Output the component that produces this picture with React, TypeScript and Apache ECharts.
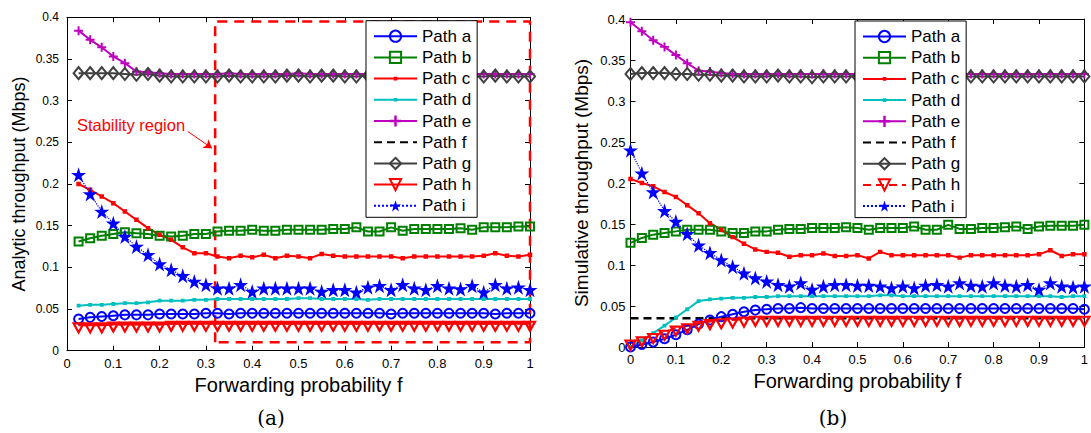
import React, { useEffect, useRef } from 'react';
import * as echarts from 'echarts';

// ---------- data ----------
const xLeft = [0.025, 0.05, 0.075, 0.1, 0.125, 0.15, 0.175, 0.2, 0.225, 0.25, 0.275, 0.3, 0.325, 0.35, 0.375, 0.4, 0.425, 0.45, 0.475, 0.5, 0.525, 0.55, 0.575, 0.6, 0.625, 0.65, 0.675, 0.7, 0.725, 0.75, 0.775, 0.8, 0.825, 0.85, 0.875, 0.9, 0.925, 0.95, 0.975, 1];
const xRight = [0, 0.025, 0.05, 0.075, 0.1, 0.125, 0.15, 0.175, 0.2, 0.225, 0.25, 0.275, 0.3, 0.325, 0.35, 0.375, 0.4, 0.425, 0.45, 0.475, 0.5, 0.525, 0.55, 0.575, 0.6, 0.625, 0.65, 0.675, 0.7, 0.725, 0.75, 0.775, 0.8, 0.825, 0.85, 0.875, 0.9, 0.925, 0.95, 0.975, 1];

const xTickLabels = ['0', '0.1', '0.2', '0.3', '0.4', '0.5', '0.6', '0.7', '0.8', '0.9', '1'];
const yTickLabels = ['0', '0.05', '0.1', '0.15', '0.2', '0.25', '0.3', '0.35', '0.4'];
const pathNames = ['Path a', 'Path b', 'Path c', 'Path d', 'Path e', 'Path f', 'Path g', 'Path h', 'Path i'];

// (a) analytic
const leftA = [0.038, 0.040, 0.041, 0.042, 0.043, 0.043, 0.043, 0.044, 0.044, 0.044, 0.044, 0.045, 0.045, 0.044, 0.045, 0.045, 0.045, 0.045, 0.045, 0.045, 0.045, 0.045, 0.045, 0.045, 0.045, 0.045, 0.045, 0.044, 0.045, 0.045, 0.045, 0.045, 0.045, 0.045, 0.045, 0.045, 0.044, 0.045, 0.045, 0.045];
const leftB = [0.131, 0.135, 0.138, 0.140, 0.142, 0.141, 0.140, 0.138, 0.137, 0.138, 0.140, 0.140, 0.143, 0.144, 0.144, 0.145, 0.144, 0.144, 0.145, 0.145, 0.145, 0.145, 0.146, 0.146, 0.148, 0.143, 0.143, 0.148, 0.144, 0.146, 0.146, 0.146, 0.146, 0.147, 0.145, 0.148, 0.148, 0.148, 0.149, 0.149];
const leftC = [0.200, 0.193, 0.185, 0.177, 0.167, 0.157, 0.147, 0.139, 0.133, 0.124, 0.117, 0.117, 0.113, 0.111, 0.114, 0.112, 0.115, 0.111, 0.114, 0.113, 0.111, 0.116, 0.114, 0.113, 0.113, 0.113, 0.113, 0.113, 0.111, 0.113, 0.113, 0.113, 0.113, 0.113, 0.113, 0.114, 0.117, 0.114, 0.113, 0.115];
const leftD = [0.054, 0.055, 0.055, 0.056, 0.057, 0.057, 0.058, 0.060, 0.060, 0.060, 0.061, 0.061, 0.062, 0.062, 0.062, 0.062, 0.062, 0.062, 0.062, 0.063, 0.063, 0.062, 0.062, 0.062, 0.062, 0.061, 0.062, 0.062, 0.062, 0.062, 0.062, 0.062, 0.062, 0.062, 0.062, 0.062, 0.062, 0.062, 0.062, 0.062];
const leftE = [0.384, 0.373, 0.364, 0.353, 0.345, 0.335, 0.334, 0.333, 0.332, 0.332, 0.332, 0.332, 0.332, 0.333, 0.332, 0.332, 0.332, 0.332, 0.332, 0.333, 0.332, 0.332, 0.332, 0.332, 0.332, 0.332, 0.332, 0.332, 0.332, 0.332, 0.333, 0.332, 0.332, 0.332, 0.332, 0.332, 0.332, 0.332, 0.332, 0.332];
const leftF = [0.031, 0.031, 0.031, 0.032, 0.032, 0.032, 0.032, 0.032, 0.033, 0.033, 0.033, 0.033, 0.033, 0.033, 0.033, 0.033, 0.033, 0.033, 0.033, 0.033, 0.033, 0.033, 0.033, 0.033, 0.033, 0.033, 0.033, 0.033, 0.033, 0.033, 0.033, 0.033, 0.033, 0.033, 0.033, 0.033, 0.033, 0.033, 0.033, 0.033];
const leftG = [0.333, 0.333, 0.333, 0.333, 0.332, 0.331, 0.332, 0.330, 0.329, 0.329, 0.329, 0.329, 0.329, 0.330, 0.329, 0.329, 0.329, 0.329, 0.330, 0.330, 0.329, 0.330, 0.330, 0.329, 0.329, 0.330, 0.329, 0.330, 0.330, 0.329, 0.330, 0.329, 0.329, 0.330, 0.329, 0.329, 0.330, 0.329, 0.329, 0.329];
const leftH = [0.031, 0.031, 0.031, 0.032, 0.032, 0.032, 0.032, 0.032, 0.033, 0.033, 0.033, 0.033, 0.033, 0.033, 0.033, 0.033, 0.033, 0.033, 0.033, 0.033, 0.033, 0.033, 0.033, 0.033, 0.033, 0.033, 0.033, 0.033, 0.033, 0.033, 0.033, 0.033, 0.033, 0.033, 0.033, 0.033, 0.033, 0.033, 0.033, 0.033];
const leftI = [0.211, 0.188, 0.167, 0.153, 0.137, 0.125, 0.115, 0.104, 0.097, 0.090, 0.083, 0.079, 0.075, 0.075, 0.079, 0.071, 0.075, 0.075, 0.075, 0.075, 0.075, 0.071, 0.073, 0.073, 0.070, 0.076, 0.078, 0.073, 0.079, 0.075, 0.073, 0.078, 0.075, 0.074, 0.078, 0.070, 0.079, 0.075, 0.076, 0.073];

// (b) simulative
const rightA = [0.000, 0.003, 0.006, 0.010, 0.015, 0.021, 0.028, 0.033, 0.037, 0.040, 0.043, 0.045, 0.046, 0.047, 0.047, 0.048, 0.047, 0.047, 0.047, 0.047, 0.047, 0.047, 0.047, 0.047, 0.047, 0.047, 0.047, 0.047, 0.047, 0.047, 0.047, 0.047, 0.047, 0.047, 0.047, 0.047, 0.047, 0.047, 0.047, 0.047, 0.046];
const rightB = [0.127, 0.133, 0.137, 0.139, 0.141, 0.143, 0.143, 0.143, 0.141, 0.139, 0.139, 0.141, 0.141, 0.143, 0.144, 0.144, 0.145, 0.145, 0.145, 0.146, 0.145, 0.143, 0.145, 0.145, 0.145, 0.147, 0.143, 0.143, 0.149, 0.144, 0.144, 0.145, 0.145, 0.146, 0.147, 0.144, 0.147, 0.148, 0.148, 0.148, 0.149];
const rightC = [0.205, 0.200, 0.196, 0.189, 0.183, 0.173, 0.163, 0.151, 0.143, 0.134, 0.126, 0.119, 0.116, 0.115, 0.110, 0.112, 0.112, 0.114, 0.111, 0.111, 0.112, 0.108, 0.116, 0.112, 0.112, 0.112, 0.112, 0.112, 0.112, 0.109, 0.112, 0.112, 0.112, 0.112, 0.112, 0.112, 0.113, 0.118, 0.111, 0.113, 0.113];
const rightD = [0.000, 0.008, 0.017, 0.026, 0.036, 0.046, 0.056, 0.058, 0.059, 0.060, 0.060, 0.061, 0.061, 0.062, 0.062, 0.062, 0.062, 0.062, 0.062, 0.062, 0.062, 0.062, 0.063, 0.063, 0.062, 0.062, 0.062, 0.062, 0.062, 0.062, 0.062, 0.062, 0.062, 0.062, 0.062, 0.062, 0.062, 0.062, 0.061, 0.062, 0.062];
const rightE = [0.396, 0.385, 0.374, 0.366, 0.356, 0.346, 0.337, 0.336, 0.334, 0.333, 0.333, 0.333, 0.333, 0.333, 0.333, 0.333, 0.333, 0.333, 0.333, 0.333, 0.333, 0.333, 0.333, 0.333, 0.333, 0.334, 0.333, 0.333, 0.333, 0.333, 0.333, 0.333, 0.333, 0.333, 0.333, 0.333, 0.333, 0.333, 0.333, 0.333, 0.333];
const rightF = [0.035, 0.035, 0.035, 0.035, 0.035, 0.035, 0.035, 0.035, 0.035, 0.035, 0.035, 0.035, 0.035, 0.035, 0.035, 0.035, 0.035, 0.035, 0.035, 0.035, 0.035, 0.035, 0.035, 0.035, 0.035, 0.035, 0.035, 0.035, 0.035, 0.035, 0.035, 0.035, 0.035, 0.035, 0.035, 0.035, 0.035, 0.035, 0.035, 0.035, 0.035];
const rightG = [0.333, 0.334, 0.334, 0.334, 0.333, 0.333, 0.332, 0.332, 0.331, 0.331, 0.330, 0.330, 0.330, 0.331, 0.330, 0.330, 0.329, 0.330, 0.330, 0.330, 0.330, 0.330, 0.329, 0.330, 0.330, 0.330, 0.330, 0.330, 0.330, 0.329, 0.330, 0.330, 0.330, 0.330, 0.330, 0.330, 0.330, 0.330, 0.330, 0.330, 0.330];
const rightH = [0.006, 0.010, 0.014, 0.018, 0.023, 0.026, 0.029, 0.031, 0.032, 0.033, 0.034, 0.035, 0.035, 0.035, 0.035, 0.035, 0.035, 0.035, 0.035, 0.035, 0.035, 0.035, 0.035, 0.035, 0.035, 0.035, 0.035, 0.035, 0.035, 0.035, 0.035, 0.035, 0.035, 0.035, 0.035, 0.035, 0.035, 0.035, 0.035, 0.035, 0.035];
const rightI = [0.240, 0.212, 0.189, 0.166, 0.153, 0.138, 0.124, 0.115, 0.106, 0.098, 0.090, 0.084, 0.080, 0.076, 0.074, 0.078, 0.070, 0.074, 0.076, 0.076, 0.075, 0.075, 0.074, 0.072, 0.074, 0.072, 0.075, 0.076, 0.074, 0.078, 0.075, 0.074, 0.078, 0.075, 0.074, 0.076, 0.070, 0.078, 0.074, 0.073, 0.074];

// stability region annotation (data coordinates of chart (a))
const regionX = [0.32, 0.32, 1, 1, 0.32];
const regionY = [0.01, 0.395, 0.395, 0.01, 0.01];
const arrowFrom = [0.261, 0.263];
const arrowTo = [0.313, 0.243];

// ---------- styles ----------
const FONT = '"Liberation Sans", Arial, Helvetica, sans-serif';
const STAR = 'path://M50,0 L61.2,34.5 L97.6,34.5 L68.2,55.9 L79.4,90.5 L50,69.1 L20.6,90.5 L31.8,55.9 L2.4,34.5 L38.8,34.5 Z';
const PLUS = 'path://M3.9,0 L6.1,0 L6.1,3.9 L10,3.9 L10,6.1 L6.1,6.1 L6.1,10 L3.9,10 L3.9,6.1 L0,6.1 L0,3.9 L3.9,3.9 Z';
const DOT = 'path://M0,0 L0.01,0 L0,0.01 Z M3.4,3.4 L6.6,3.4 L6.6,6.6 L3.4,6.6 Z M10,10 L9.99,10 L10,9.99 Z';
const CLEAR = 'rgba(0,0,0,0)';

type St = {
  color: string; width: number; type?: any; symbol: string; size: any;
  fill: string; border?: number; rotate?: number; offset?: number[]; hidden?: boolean;
};

const styleLeft: St[] = [
  { color: '#0000FF', width: 2, symbol: 'circle', size: 9, fill: CLEAR, border: 2 },
  { color: '#008000', width: 2, symbol: 'rect', size: 8, fill: CLEAR, border: 2 },
  { color: '#FF0000', width: 2, symbol: DOT, size: 14, fill: '#FF0000' },
  { color: '#00BFBF', width: 2, symbol: DOT, size: 12, fill: '#00BFBF' },
  { color: '#BF00BF', width: 2, symbol: PLUS, size: 9, fill: '#BF00BF' },
  { color: '#000000', width: 2.5, type: [8, 5], symbol: 'circle', size: 0, fill: '#000', hidden: true },
  { color: '#404040', width: 2, symbol: 'diamond', size: [10, 12], fill: CLEAR, border: 2 },
  { color: '#FF0000', width: 3, symbol: 'triangle', size: [10, 9], fill: CLEAR, border: 2.2, rotate: 180, offset: [0, 3] },
  { color: '#0000FF', width: 1.2, type: 'dotted', symbol: STAR, size: 15, fill: '#0000FF' },
];
const styleRight: St[] = styleLeft.map((s, i) =>
  i === 7 ? { ...s, width: 2, type: [8, 5] } : s
);

const leftData = [leftA, leftB, leftC, leftD, leftE, leftF, leftG, leftH, leftI];
const rightData = [rightA, rightB, rightC, rightD, rightE, rightF, rightG, rightH, rightI];
const rightNames = pathNames.map((n) => n + ' ');

function makeSeries(name: string, xs: number[], ys: number[], s: St, axis: number) {
  return {
    type: 'line',
    name,
    xAxisIndex: axis,
    yAxisIndex: axis,
    data: xs.map((x, i) => [x, ys[i]]),
    symbol: s.symbol,
    symbolSize: s.size,
    symbolRotate: s.rotate || 0,
    symbolOffset: s.offset || [0, 0],
    showSymbol: !s.hidden,
    showAllSymbol: true,
    symbolKeepAspect: false,
    silent: true,
    lineStyle: { color: s.color, width: s.width, type: s.type || 'solid' },
    itemStyle: {
      color: s.fill,
      borderColor: s.color,
      borderWidth: s.border || 0,
      opacity: s.hidden ? 0 : 1,
    },
    emphasis: { disabled: true },
  };
}

function xAxis(grid: number, pos: 'bottom' | 'top', nameGap: number) {
  const main = pos === 'bottom';
  return {
    type: 'value',
    gridIndex: grid,
    position: pos,
    min: 0,
    max: 1,
    interval: 0.1,
    name: main ? 'Forwarding probability f' : '',
    nameLocation: 'middle',
    nameGap,
    nameTextStyle: { fontSize: 20, color: '#000', fontFamily: FONT },
    axisLine: { show: true, onZero: false, lineStyle: { color: '#000', width: 1 } },
    axisTick: { show: true, inside: true, length: 5, lineStyle: { color: '#000' } },
    axisLabel: {
      show: main,
      fontSize: 13,
      color: '#000',
      margin: 6,
      fontFamily: FONT,
      formatter: (v: number) => xTickLabels[Math.round(v * 10)],
    },
    splitLine: { show: false },
  };
}

function yAxis(grid: number, pos: 'left' | 'right', title: string, nameGap: number, fontSize: number, margin: number, titleSize: number) {
  const main = pos === 'left';
  return {
    type: 'value',
    gridIndex: grid,
    position: pos,
    min: 0,
    max: 0.4,
    interval: 0.05,
    name: main ? title : '',
    nameLocation: 'middle',
    nameGap,
    nameRotate: 90,
    nameTextStyle: { fontSize: titleSize, color: '#000', fontFamily: FONT },
    axisLine: { show: true, onZero: false, lineStyle: { color: '#000', width: 1 } },
    axisTick: { show: true, inside: true, length: 5, lineStyle: { color: '#000' } },
    axisLabel: {
      show: main,
      fontSize,
      color: '#000',
      margin,
      fontFamily: FONT,
      formatter: (v: number) => yTickLabels[Math.round(v / 0.05)],
    },
    splitLine: { show: false },
  };
}

function legend(names: string[], left: number, top: number) {
  return {
    data: names.map((n, i) => (i === 5 ? { name: n, itemStyle: { opacity: 0 } } : { name: n })),
    orient: 'vertical',
    left,
    top,
    itemWidth: 43,
    itemHeight: 14,
    itemGap: 4.2,
    padding: [7, 6, 3, 7],
    borderColor: '#000',
    borderWidth: 1,
    borderRadius: 0,
    backgroundColor: '#fff',
    selectedMode: false,
    formatter: (n: string) => n.trim(),
    textStyle: { fontSize: 17, lineHeight: 17, color: '#000', fontFamily: FONT },
    z: 10,
  };
}

export default function App() {
  const ref = useRef<HTMLDivElement>(null);
  useEffect(() => {
    if (!ref.current) return;
    const chart = echarts.init(ref.current, undefined, { renderer: 'svg' });
    const series: any[] = [];
    series.push({
      type: 'line',
      xAxisIndex: 0,
      yAxisIndex: 0,
      data: regionX.map((x, i) => [x, regionY[i]]),
      symbol: 'none',
      silent: true,
      z: 1,
      lineStyle: { color: '#FF0000', width: 2.5, type: [10, 7] },
      markLine: {
        silent: true,
        symbol: ['none', 'arrow'],
        symbolSize: 8,
        label: { show: false },
        lineStyle: { color: '#FF0000', width: 1, type: 'solid' },
        data: [[{ coord: arrowFrom }, { coord: arrowTo }]],
      },
    });
    pathNames.forEach((n, i) => series.push(makeSeries(n, xLeft, leftData[i], styleLeft[i], 0)));
    rightNames.forEach((n, i) => series.push(makeSeries(n, xRight, rightData[i], styleRight[i], 2)));

    const option: any = {
      animation: false,
      backgroundColor: '#fff',
      textStyle: { fontFamily: FONT },
      grid: [
        { left: 67, top: 17.3, width: 463, height: 333.4 },
        { left: 630.5, top: 19, width: 461, height: 328 },
      ],
      xAxis: [xAxis(0, 'bottom', 19), xAxis(0, 'top', 0), xAxis(1, 'bottom', 22), xAxis(1, 'top', 0)],
      yAxis: [
        yAxis(0, 'left', 'Analytic throughput (Mbps)', 39, 12, 8, 18),
        yAxis(0, 'right', '', 0, 12, 8, 18),
        yAxis(1, 'left', 'Simulative throughput (Mbps)', 40, 13, 5, 19),
        yAxis(1, 'right', '', 0, 13, 5, 19),
      ],
      legend: [legend(pathNames, 366, 20.7), legend(rightNames, 855, 21)],
      series,
      graphic: [
        {
          type: 'text',
          x: 131,
          y: 125,
          silent: true,
          style: { text: 'Stability region', fill: '#FF0000', fontSize: 16.5, fontFamily: FONT, align: 'center', verticalAlign: 'middle' },
        },
        {
          type: 'text',
          x: 271,
          y: 418,
          silent: true,
          style: { text: '(a)', fill: '#000', fontSize: 20, fontFamily: '"DejaVu Serif", serif', align: 'center', verticalAlign: 'middle' },
        },
        {
          type: 'text',
          x: 833,
          y: 418,
          silent: true,
          style: { text: '(b)', fill: '#000', fontSize: 20, fontFamily: '"DejaVu Serif", serif', align: 'center', verticalAlign: 'middle' },
        },
      ],
    };
    chart.setOption(option);
    return () => chart.dispose();
  }, []);
  return (
    <div
      ref={ref}
      style={{ position: 'absolute', left: 0, top: 0, width: 1091, height: 433, background: '#fff' }}
    />
  );
}
